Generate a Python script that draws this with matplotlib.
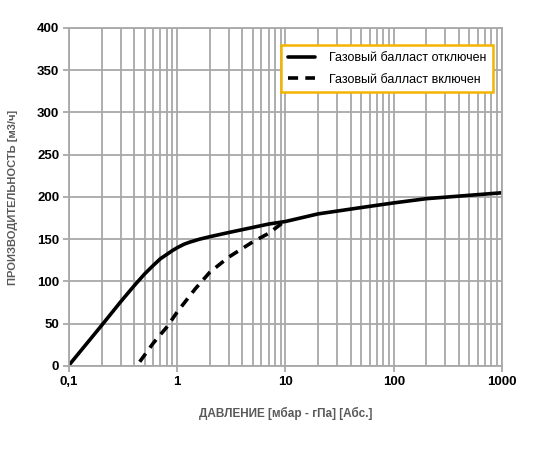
import matplotlib
matplotlib.use("Agg")
import matplotlib.pyplot as plt
from matplotlib.ticker import FixedLocator, LogLocator, NullFormatter

x_off = [0.1, 0.2, 0.3, 0.4, 0.5, 0.6, 0.7, 0.8, 0.9, 1, 1.15, 1.3, 1.6, 2, 3, 5, 7, 10, 20, 50, 100, 200, 500, 1000]
y_off = [1, 48, 76, 95, 109, 119, 127, 132, 136.5, 140, 144, 146.5, 150, 153, 158, 164, 168, 171, 180, 187.5, 193, 198, 202, 205]
x_on = [0.45, 0.6, 0.8, 1, 1.46, 2, 3, 5, 7, 9.3]
y_on = [5, 27, 46, 64, 91, 111, 129, 147, 157, 169]

label_off = "Газовый балласт отключен"
label_on = "Газовый балласт включен"
xlabel = "ДАВЛЕНИЕ [мбар - гПа] [Абс.]"
ylabel = "ПРОИЗВОДИТЕЛЬНОСТЬ [м3/ч]"
xticks = [0.1, 1, 10, 100, 1000]
xticklabels = ["0,1", "1", "10", "100", "1000"]
yticks = [0, 50, 100, 150, 200, 250, 300, 350, 400]

fam = ["Liberation Sans", "DejaVu Sans"]
plt.rcParams['font.family'] = fam

fig = plt.figure(figsize=(5.4, 4.5), dpi=100)
ax = fig.add_axes([0.1278, 0.1867, 0.8018, 0.7511])
ax.set_xscale('log')
ax.set_xlim(0.1, 1000)
ax.set_ylim(0, 400)

gc = '#a8a8a8'
ax.xaxis.set_major_locator(FixedLocator(xticks))
ax.xaxis.set_minor_locator(LogLocator(base=10, subs=range(2, 10)))
ax.xaxis.set_minor_formatter(NullFormatter())
ax.set_xticklabels(xticklabels)
ax.set_yticks(yticks)
ax.grid(True, which='major', color=gc, lw=1.3)
ax.grid(True, which='minor', axis='x', color=gc, lw=1.3)
ax.set_axisbelow(True)
for s in ax.spines.values():
    s.set_color(gc)
    s.set_linewidth(1.3)
ax.tick_params(axis='both', which='major', length=4, color=gc, width=1.3,
               labelsize=9.5, pad=3)
ax.tick_params(axis='x', which='minor', length=0)
for lab in ax.get_xticklabels() + ax.get_yticklabels():
    lab.set_fontweight('bold')
    lab.set_color('black')

ax.plot(x_off, y_off, color='black', lw=2.6, label=label_off, solid_capstyle='round',
        solid_joinstyle='round')
ax.plot(x_on, y_on, color='black', lw=2.6, ls=(0, (2.8, 2.0)), label=label_on)

ax.set_xlabel(xlabel, fontsize=8.5, fontweight='bold', color='#595959', labelpad=14)
ax.set_ylabel(ylabel, fontsize=8, fontweight='bold', color='#595959', labelpad=14)

leg = ax.legend(loc='upper right', bbox_to_anchor=(0.9885, 0.96), fontsize=9,
                frameon=True, fancybox=False, borderpad=0.55, labelspacing=0.75,
                handlelength=2.2, handletextpad=1.1, borderaxespad=0.3)
leg.get_frame().set_edgecolor('#f5b400')
leg.get_frame().set_linewidth(1.8)
leg.get_frame().set_facecolor('white')
leg.get_frame().set_alpha(1)

fig.savefig("out.png", dpi=100)
